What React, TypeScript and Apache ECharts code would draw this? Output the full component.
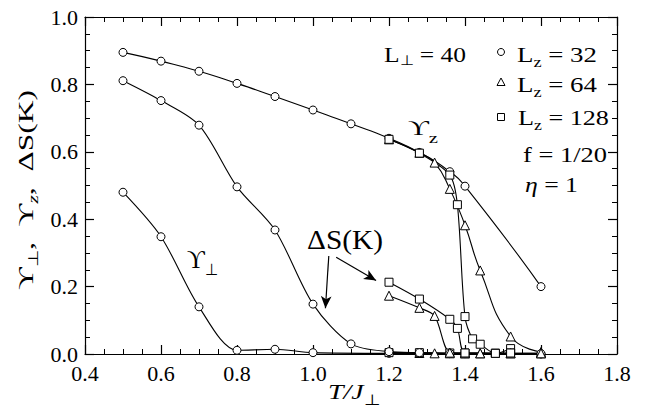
import React, { useEffect, useRef } from 'react';
import * as echarts from 'echarts';

// ---- axis ranges / ticks ----
const X_MIN = 0.4, X_MAX = 1.8, X_STEP = 0.2;
const Y_MIN = 0.0, Y_MAX = 1.0, Y_STEP = 0.2;

// ---- Υz (upper curves) ----
const T_YZ_32 = [0.5, 0.6, 0.7, 0.8, 0.9, 1.0, 1.1, 1.2, 1.28, 1.36, 1.4, 1.6];
const YZ_32 = [0.895, 0.869, 0.839, 0.803, 0.764, 0.724, 0.683, 0.64, 0.598, 0.541, 0.498, 0.2];
const T_YZ_64 = [1.2, 1.28, 1.32, 1.36, 1.4, 1.44, 1.52, 1.6];
const YZ_64 = [0.637, 0.597, 0.568, 0.49, 0.382, 0.248, 0.052, 0.006];
const T_YZ_128 = [1.2, 1.28, 1.36, 1.38, 1.4, 1.42, 1.44, 1.48, 1.52];
const YZ_128 = [0.637, 0.596, 0.531, 0.443, 0.111, 0.045, 0.029, 0.002, 0.016];

// ---- ΔS(K) ----
const T_DS_32 = [0.5, 0.6, 0.7, 0.8, 0.9, 1.0, 1.1, 1.2, 1.28, 1.36, 1.4, 1.6];
const DS_32 = [0.811, 0.752, 0.679, 0.496, 0.368, 0.148, 0.03, 0.007, 0.004, 0.002, 0.002, 0.001];
const T_DS_64 = [1.2, 1.28, 1.32, 1.36, 1.4, 1.44, 1.52, 1.6];
const DS_64 = [0.173, 0.137, 0.113, 0.004, 0.002, 0.002, 0.002, 0.002];
const T_DS_128 = [1.2, 1.28, 1.36, 1.38, 1.4, 1.48, 1.52];
const DS_128 = [0.213, 0.163, 0.103, 0.076, 0.003, 0.002, 0.003];

// ---- Υ⊥ ----
const T_YP_32 = [0.5, 0.6, 0.7, 0.8, 0.9, 1.0, 1.2, 1.28, 1.36, 1.4, 1.6];
const YP_32 = [0.48, 0.348, 0.14, 0.011, 0.014, 0.004, 0.002, 0.002, 0.001, 0.001, 0.0];
const T_YP_64 = [1.28, 1.32, 1.36, 1.4, 1.44, 1.52, 1.6];
const YP_64 = [0.003, 0.002, 0.002, 0.002, 0.002, 0.002, 0.002];
const T_YP_128 = [1.2, 1.28, 1.36, 1.4, 1.48, 1.52];
const YP_128 = [0.004, 0.004, 0.003, 0.003, 0.002, 0.003];

// ---- annotation arrows (data coordinates: from -> to) ----
const ARROWS = [
  [[1.0415, 0.291], [1.0327, 0.136]],
  [[1.061, 0.287], [1.166, 0.218]],
];

// ---- legend / annotation texts ----
const LEGEND_ROWS = [
  { sym: 'circle', main: 'L', sub: 'z', rest: ' = 32' },
  { sym: 'triangle', main: 'L', sub: 'z', rest: ' = 64' },
  { sym: 'rect', main: 'L', sub: 'z', rest: ' = 128' },
];

const SERIF = 'Liberation Serif, Times New Roman, serif';
const UPS = '\u03D2';
const PERP = '\u22A5';

let measureCtx: CanvasRenderingContext2D | null = null;
function textW(t: string, size: number, italic = false): number {
  if (!measureCtx) measureCtx = document.createElement('canvas').getContext('2d');
  if (!measureCtx) return t.length * size * 0.5;
  measureCtx.font = `${italic ? 'italic ' : ''}${size}px ${SERIF}`;
  return measureCtx.measureText(t).width;
}

type Piece = { t: string; s: number; dy?: number; it?: boolean; gap?: number };

function richLabel(pieces: Piece[], x: number, y: number, span?: number, rotation = 0) {
  let cx = 0;
  const children = pieces.map((p) => {
    cx += p.gap ?? 0;
    const el = {
      type: 'text',
      x: cx,
      y: (p.dy ?? 0) - 0.3375 * p.s,
      silent: true,
      style: {
        text: p.t,
        fontSize: p.s,
        fontFamily: SERIF,
        fontStyle: p.it ? 'italic' : 'normal',
        fontWeight: 'normal',
        fill: '#000',
        align: 'left',
        textAlign: 'left',
        verticalAlign: 'middle',
        textVerticalAlign: 'middle',
      },
    };
    cx += textW(p.t, p.s, p.it);
    return el;
  });
  const sx = span ? span / cx : 1;
  return { type: 'group', x, y, rotation, scaleX: sx, z: 100, silent: true, children };
}

function mkSeries(name: string, xs: number[], ys: number[], symbol: string, size: number, smooth = 0.3) {
  return {
    type: 'line',
    name,
    data: xs.map((x, i) => [x, ys[i]]),
    symbol,
    symbolSize: size,
    showSymbol: true,
    showAllSymbol: true,
    smooth,
    clip: false,
    silent: true,
    lineStyle: { color: '#000', width: 1.1 },
    itemStyle: { color: '#fff', borderColor: '#000', borderWidth: 1 },
    emphasis: { disabled: true },
  };
}

export default function App() {
  const ref = useRef<HTMLDivElement>(null);

  useEffect(() => {
    if (!ref.current) return;
    const chart = echarts.init(ref.current, null, { renderer: 'svg' });

    const axisCommon = {
      min: X_MIN,
      max: X_MAX,
      interval: X_STEP,
      axisLine: { show: true, onZero: false, lineStyle: { color: '#000', width: 1.2 } },
      axisTick: { show: true, inside: true, length: 9, lineStyle: { color: '#000', width: 1.2 } },
      minorTick: { show: true, splitNumber: 4, length: 5, lineStyle: { color: '#000', width: 1 } },
      splitLine: { show: false },
    };

    const yCommon = {
      ...axisCommon,
      min: Y_MIN,
      max: Y_MAX,
      interval: Y_STEP,
    };

    const labelStyle = { color: '#000', fontSize: 22, fontFamily: SERIF };

    const series: any[] = [
      mkSeries('Yz32', T_YZ_32, YZ_32, 'circle', 8, 0.6),
      mkSeries('Yz64', T_YZ_64, YZ_64, 'triangle', 9, 0.5),
      mkSeries('Yz128', T_YZ_128, YZ_128, 'rect', 8, 0.3),
      mkSeries('Yp32', T_YP_32, YP_32, 'circle', 8),
      mkSeries('Yp64', T_YP_64, YP_64, 'triangle', 9),
      mkSeries('Yp128', T_YP_128, YP_128, 'rect', 8),
      mkSeries('DS32', T_DS_32, DS_32, 'circle', 8),
      mkSeries('DS64', T_DS_64, DS_64, 'triangle', 9),
      mkSeries('DS128', T_DS_128, DS_128, 'rect', 8),
    ];
    series[6].markLine = {
      silent: true,
      symbol: ['none', 'arrow'],
      symbolSize: [8, 12],
      label: { show: false },
      lineStyle: { color: '#000', width: 1.2, type: 'solid' },
      itemStyle: { color: '#000' },
      emphasis: { disabled: true },
      data: ARROWS.map(([a, b]) => [{ coord: a }, { coord: b }]),
    };

    const legendGraphics: any[] = [];
    const rowBase = [62, 92, 125];
    const rowX = [517, 517, 518];
    const rowSpan = [80, 80, 91];
    const symY = [52, 82, 117];
    LEGEND_ROWS.forEach((r, i) => {
      legendGraphics.push(
        richLabel(
          [
            { t: r.main, s: 22 },
            { t: r.sub, s: 15, dy: 5 },
            { t: r.rest, s: 22 },
          ],
          rowX[i],
          rowBase[i],
          rowSpan[i]
        )
      );
      const sx = 501;
      const sy = symY[i];
      const st = { fill: '#fff', stroke: '#000', lineWidth: 1 };
      if (r.sym === 'circle') {
        legendGraphics.push({ type: 'circle', shape: { cx: sx, cy: sy, r: 3.5 }, style: st, z: 100, silent: true });
      } else if (r.sym === 'triangle') {
        legendGraphics.push({
          type: 'polygon',
          shape: { points: [[sx, sy - 4], [sx + 4, sy + 3.5], [sx - 4, sy + 3.5]] },
          style: st,
          z: 100,
          silent: true,
        });
      } else {
        legendGraphics.push({ type: 'rect', shape: { x: sx - 3.5, y: sy - 3.5, width: 7, height: 7 }, style: st, z: 100, silent: true });
      }
    });

    const graphics: any[] = [
      ...legendGraphics,
      richLabel([{ t: 'L', s: 22 }, { t: PERP, s: 14, dy: 3 }, { t: ' = 40', s: 22 }], 384, 62, 82),
      richLabel([{ t: 'f = 1/20', s: 22 }], 523, 162, 84),
      richLabel([{ t: '\u03B7', s: 22, it: true }, { t: ' = 1', s: 22 }], 525, 192, 53),
      richLabel([{ t: UPS, s: 21 }, { t: 'z', s: 15, dy: 8 }], 408, 135, 30),
      richLabel([{ t: UPS, s: 26 }, { t: PERP, s: 16, dy: 7 }], 187, 268, 31),
      richLabel([{ t: '\u0394S(K)', s: 28 }], 307, 249, 76),
      richLabel([{ t: 'T/J', s: 22, it: true }, { t: PERP, s: 15, dy: 6 }], 328, 399, 52),
      richLabel(
        [
          { t: UPS, s: 22 },
          { t: PERP, s: 14, dy: 5 },
          { t: ',  ', s: 22 },
          { t: UPS, s: 22 },
          { t: 'z', s: 15, dy: 5, it: true },
          { t: ',  ', s: 22 },
          { t: '\u0394S(K)', s: 22 },
        ],
        33,
        290,
        200,
        Math.PI / 2
      ),
    ];

    chart.setOption({
      animation: false,
      backgroundColor: '#fff',
      textStyle: { fontFamily: SERIF },
      grid: { left: 85, right: 33, top: 17, bottom: 57, containLabel: false },
      xAxis: [
        {
          type: 'value',
          position: 'bottom',
          ...axisCommon,
          axisLabel: { ...labelStyle, margin: 8, formatter: (v: number) => v.toFixed(1) },
        },
        {
          type: 'value',
          position: 'top',
          ...axisCommon,
          axisLabel: { show: false },
        },
      ],
      yAxis: [
        {
          type: 'value',
          position: 'left',
          ...yCommon,
          axisLabel: { ...labelStyle, margin: 7, formatter: (v: number) => v.toFixed(1) },
        },
        {
          type: 'value',
          position: 'right',
          ...yCommon,
          axisLabel: { show: false },
        },
      ],
      series,
      graphic: graphics,
    });

    return () => chart.dispose();
  }, []);

  return (
    <div
      ref={ref}
      style={{ position: 'fixed', left: 0, top: 0, width: 650, height: 411, background: '#fff' }}
    />
  );
}
